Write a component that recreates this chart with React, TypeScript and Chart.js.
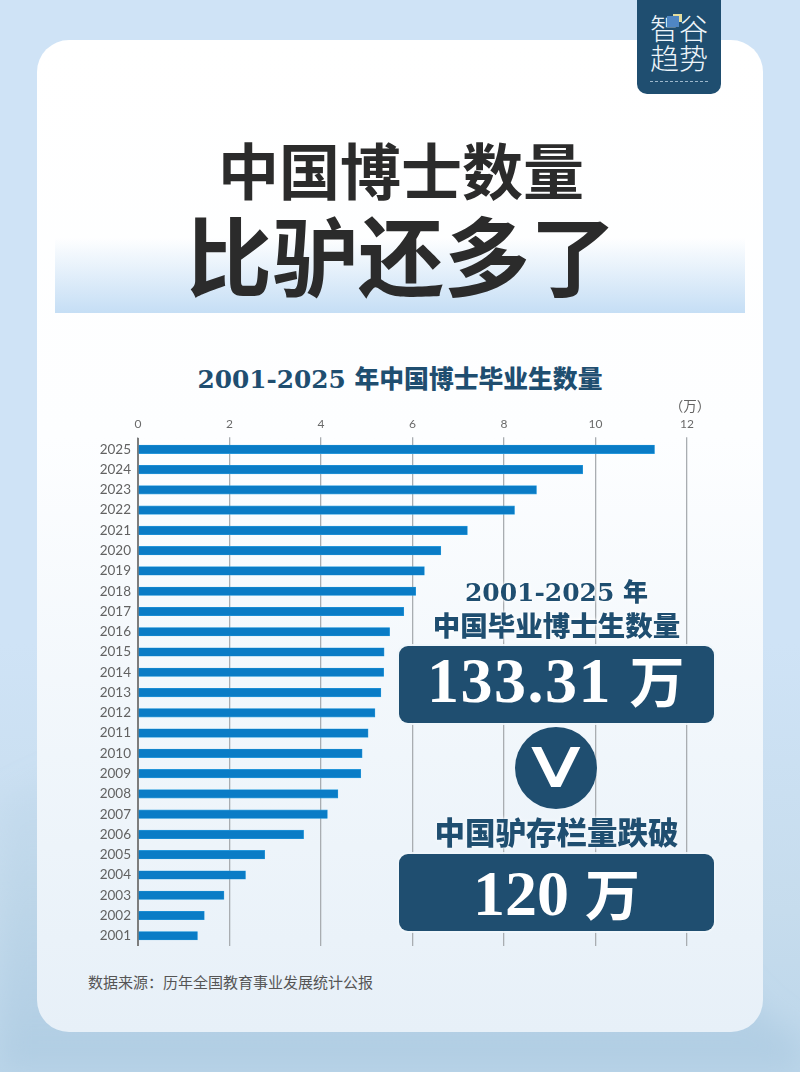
import { useEffect, useRef } from 'react';
import { Chart, registerables } from 'chart.js';

Chart.register(...registerables);

const years = ['2025','2024','2023','2022','2021','2020','2019','2018','2017','2016','2015','2014','2013','2012','2011','2010','2009','2008','2007','2006','2005','2004','2003','2002','2001'];
const graduates = [11.29,9.72,8.71,8.23,7.2,6.62,6.26,6.07,5.81,5.5,5.38,5.37,5.31,5.18,5.03,4.9,4.87,4.37,4.14,3.62,2.77,2.35,1.88,1.45,1.3];
const xTicks = [0, 2, 4, 6, 8, 10, 12];

const navy = '#1f4e70';
const cjk = '"Noto Sans CJK SC"';
const serifSmall = `"DejaVu Serif", ${cjk}`;
const serifBig = `"Liberation Serif", ${cjk}`;

function Label({ x, y, w, size, color = navy, font = serifSmall, weight = 900, children, style }: any) {
  // y is the vertical centre of the line
  return (
    <div style={{
      position: 'absolute', left: x, top: y - size, width: w, height: size * 2, lineHeight: `${size * 2}px`,
      fontSize: size, color, fontFamily: font, fontWeight: weight, textAlign: 'center', whiteSpace: 'nowrap', ...style,
    }}>{children}</div>
  );
}

function Panel({ top, children }: any) {
  return (
    <div style={{
      position: 'absolute', left: 399, top, width: 315, height: 77, background: navy, borderRadius: 9,
      boxShadow: '0 0 0 2px rgba(240,246,251,0.9)',
    }}>{children}</div>
  );
}

// the misty hills behind the card, page colour only
function Hills() {
  return (
    <svg width={800} height={1072} style={{ position: 'absolute', left: 0, top: 0 }}>
      <defs>
        <filter id="mist"><feGaussianBlur stdDeviation="14" /></filter>
        <linearGradient id="fade" x1="0" y1="0" x2="0" y2="1">
          <stop offset="0" stopColor="#a9c8df" stopOpacity="0.12" />
          <stop offset="1" stopColor="#a9c8df" stopOpacity="0.6" />
        </linearGradient>
      </defs>
      <path d="M0 800 L60 770 L130 860 L260 940 L420 1000 L560 960 L660 900 L760 1010 L800 1040 L800 1072 L0 1072 Z" fill="url(#fade)" filter="url(#mist)" />
    </svg>
  );
}

export default function App() {
  const ref = useRef<HTMLCanvasElement>(null);

  useEffect(() => {
    if (!ref.current) return;
    const chart = new Chart(ref.current, {
      type: 'bar',
      data: {
        labels: years,
        datasets: [{
          data: graduates,
          backgroundColor: '#0a7cc6',
          borderColor: '#2f9fe0',
          borderWidth: 0.6,
          barThickness: 8.5,
        }],
      },
      options: {
        indexAxis: 'y',
        responsive: false,
        animation: false,
        layout: { autoPadding: false, padding: { left: 0, right: 113, top: 0, bottom: 11.2 } },
        plugins: {
          legend: { display: false },
          tooltip: { enabled: false },
        },
        scales: {
          x: {
            position: 'top',
            min: 0,
            max: 12,
            afterBuildTicks: s => { s.ticks = xTicks.map(value => ({ value })); },
            afterFit: s => { s.height = 39.2; },
            ticks: { color: '#6a6a6a', font: { family: 'Lato', size: 12 }, padding: 6, maxRotation: 0 },
            grid: { color: '#a9adb1', lineWidth: 1.3, tickLength: 2, drawTicks: true },
            border: { display: false },
          },
          y: {
            afterFit: s => { s.width = 138; },
            ticks: { color: '#626262', font: { family: 'Lato', size: 13.5 }, padding: 7, autoSkip: false },
            grid: { display: false, drawTicks: false },
            border: { color: '#7d7d7d', width: 2 },
          },
        },
      },
    });
    return () => chart.destroy();
  }, []);

  return (
    <div style={{
      position: 'absolute', left: 0, top: 0, width: 800, height: 1072, overflow: 'hidden',
      background: 'linear-gradient(180deg, #cfe3f6 0%, #cfe3f6 60%, #c6dced 85%, #bcd6ea 100%)',
    }}>
      <Hills />

      {/* card */}
      <div style={{
        position: 'absolute', left: 37, top: 40, width: 726, height: 992, borderRadius: 32, overflow: 'hidden',
        background: 'linear-gradient(180deg, #ffffff 0%, #fdfeff 40%, #f0f6fb 72%, #e7f0f8 100%)',
      }}>
        <div style={{
          position: 'absolute', left: 18, top: 198, width: 690, height: 75,
          background: 'linear-gradient(180deg, rgba(197,222,245,0) 0%, rgba(197,222,245,0.45) 45%, #c5def5 100%)',
        }} />
      </div>

      {/* logo */}
      <div style={{
        position: 'absolute', left: 637, top: 0, width: 84, height: 94, background: navy,
        borderRadius: '0 0 10px 10px',
      }}>
        <div style={{
          position: 'absolute', left: 0, top: 12, width: 84, textAlign: 'center', color: '#eef5fa',
          fontFamily: cjk, fontSize: 29, lineHeight: '30px', fontWeight: 300,
        }}>智谷<br />趋势</div>
        <div style={{ position: 'absolute', left: 36, top: 14, width: 9, height: 8, background: '#e4dd9c' }} />
        <div style={{ position: 'absolute', left: 30, top: 16, width: 12, height: 11, background: '#4f86c4' }} />
        <div style={{ position: 'absolute', left: 13, top: 81, width: 58, borderTop: '1px dashed #9db8cc' }} />
      </div>

      {/* headline */}
      <Label x={0} y={169} w={802} size={61} color="#2b2b2b" font={cjk} weight={700}>中国博士数量</Label>
      <Label x={0} y={253} w={802} size={86} color="#2b2b2b" font={cjk} weight={700}>比驴还多了</Label>

      <Label x={0} y={380} w={800} size={24.8}>2001-2025 年中国博士毕业生数量</Label>

      {/* chart */}
      <canvas ref={ref} width={800} height={561} style={{ position: 'absolute', left: 0, top: 400, width: 800, height: 561 }} />

      <Label x={660} y={405} w={60} size={13.5} color="#626262" font={cjk} weight={400}>（万）</Label>

      {/* call-outs */}
      <Label x={399} y={593} w={315} size={25} style={{ textShadow: '0 0 3px #fff, 0 0 5px #fff' }}>2001-2025 年</Label>
      <Label x={399} y={626} w={315} size={27.5} style={{ textShadow: '0 0 3px #fff, 0 0 5px #fff' }}>中国毕业博士生数量</Label>
      <Panel top={646}>
        <Label x={0} y={35} w={315} size={64} color="#fff" font={serifBig} weight={700} style={{ letterSpacing: 1.5 }}>
          133.31 <span style={{ fontSize: 55 }}>万</span>
        </Label>
      </Panel>
      <div style={{ position: 'absolute', left: 515, top: 727, width: 82, height: 82, borderRadius: '50%', background: navy }} />
      <Label x={515} y={768} w={82} size={52} color="#fff" font='"DejaVu Sans"' weight={400} style={{ transform: 'scaleX(1.3)', WebkitTextStroke: '2px #fff' }}>V</Label>
      <Label x={399} y={833} w={315} size={30.5} style={{ textShadow: '0 0 3px #f4f8fc, 0 0 5px #f4f8fc' }}>中国驴存栏量跌破</Label>
      <Panel top={854}>
        <Label x={0} y={40} w={315} size={64} color="#fff" font={serifBig} weight={700}>
          120 <span style={{ fontSize: 55 }}>万</span>
        </Label>
      </Panel>

      <div style={{
        position: 'absolute', left: 88, top: 972, fontFamily: cjk, fontSize: 15, lineHeight: '20px', color: '#555',
        whiteSpace: 'nowrap',
      }}>数据来源：历年全国教育事业发展统计公报</div>
    </div>
  );
}
